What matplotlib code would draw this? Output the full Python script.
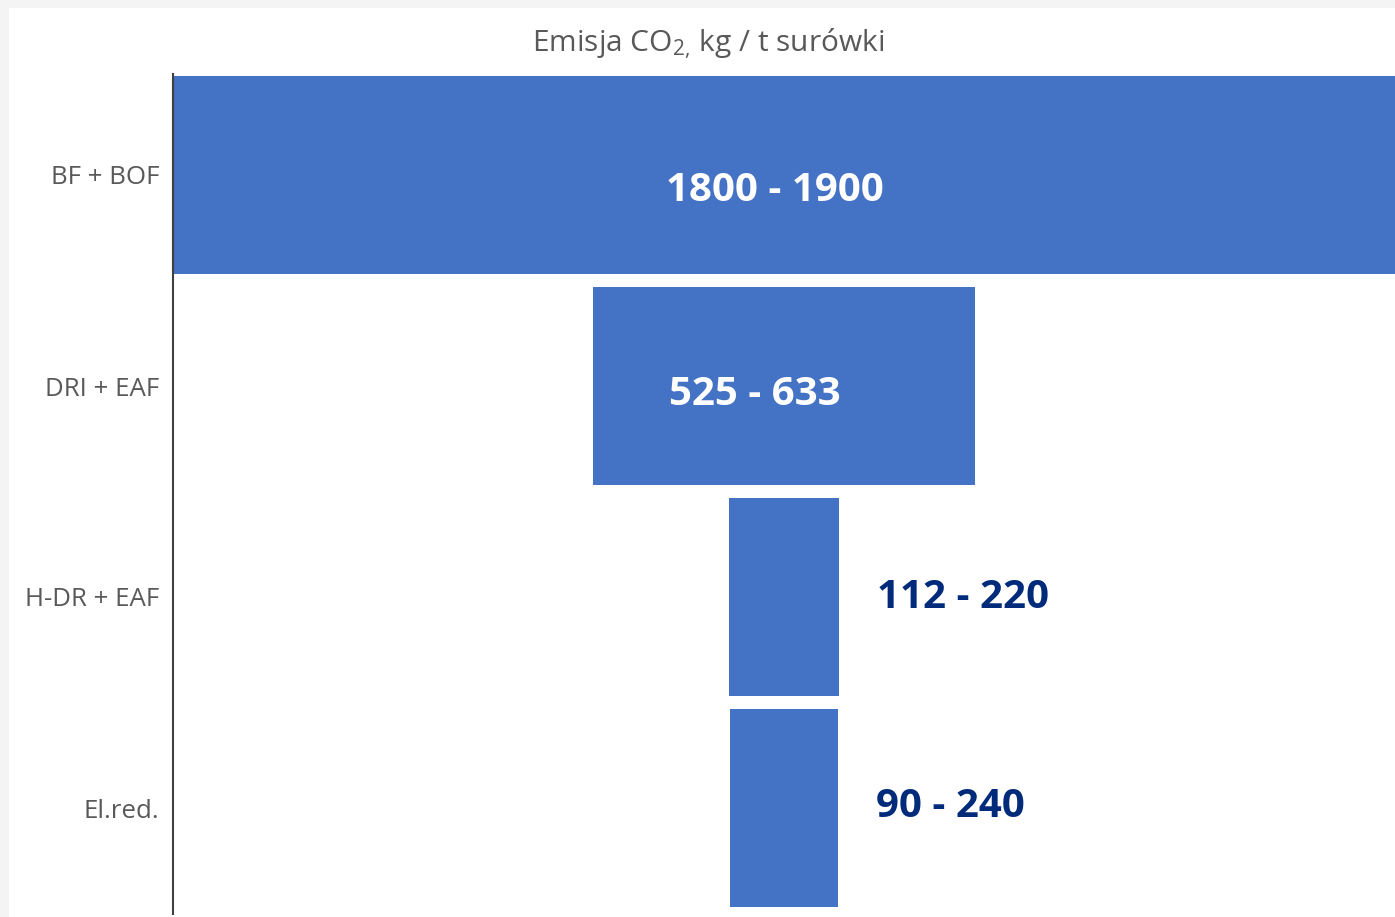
import matplotlib
matplotlib.use("Agg")
import matplotlib.pyplot as plt
from matplotlib.patches import Rectangle

plt.rcParams['font.family'] = ['Open Sans', 'DejaVu Sans']
plt.rcParams['mathtext.fontset'] = 'custom'
plt.rcParams['mathtext.rm'] = 'Open Sans'
plt.rcParams['mathtext.it'] = 'Open Sans'

# Emission ranges per steelmaking route
routes = ["BF + BOF", "DRI + EAF", "H-DR + EAF", "El.red."]
low = [1800, 525, 112, 90]
high = [1900, 633, 220, 240]
range_labels = [f"{a} - {b}" for a, b in zip(low, high)]
mid = [(a + b) / 2 for a, b in zip(low, high)]

W, H = 1395, 917
fig = plt.figure(figsize=(W / 100, H / 100), dpi=100)
fig.patch.set_facecolor("#f4f4f4")
fig.add_artist(Rectangle((9 / W, 0), 1 - 9 / W, 1 - 8 / H,
                         transform=fig.transFigure, facecolor="white",
                         edgecolor="none", zorder=0))

ax = fig.add_axes([173 / W, (H - 913.5) / H, 1 - 173 / W, 844 / H])
ax.set_facecolor("none")

bar_color = "#4472c4"
half = max(mid) / 2
ax.barh(range(len(routes)), mid, left=[-m / 2 for m in mid],
        height=198 / 211, color=bar_color, edgecolor="none")

ax.set_xlim(-half, half)
ax.set_ylim(len(routes) - 0.5, -0.5)

ax.set_yticks(range(len(routes)))
ax.set_yticklabels(routes, fontsize=18.6, color="#595959")
ax.tick_params(axis="y", length=0, pad=10)
for t in ax.get_yticklabels():
    t.set_y(t.get_position()[1])
ax.set_xticks([])
for s in ["top", "right", "bottom"]:
    ax.spines[s].set_visible(False)
ax.spines["left"].set_color("#404040")
ax.spines["left"].set_linewidth(1.5)
ax.spines["left"].set_bounds(len(routes) - 0.5, -0.48)

# value labels: inside for wide bars, to the right for narrow ones
inside_offsets = {0: (-9, -11), 1: (-29, -4)}
for i, (lab, m) in enumerate(zip(range_labels, mid)):
    if i in inside_offsets:
        dx, dy = inside_offsets[i]
        ax.annotate(lab, xy=(0, i), xytext=(dx, dy), textcoords="offset pixels",
                    ha="center", va="center_baseline", fontsize=29,
                    fontweight="bold", color="white")
    else:
        dy = {2: 4, 3: 6}[i]
        ax.annotate(lab, xy=(m / 2, i), xytext=(38, dy), textcoords="offset pixels",
                    ha="left", va="center_baseline", fontsize=29,
                    fontweight="bold", color="#002a7a")

fig.text(708 / W, 1 - 39 / H, r"Emisja CO$_{\mathrm{2,}}\,$kg / t surówki",
         ha="center", va="center_baseline", fontsize=21.5, color="#595959")

fig.savefig("out.png", dpi=100, facecolor=fig.get_facecolor())
